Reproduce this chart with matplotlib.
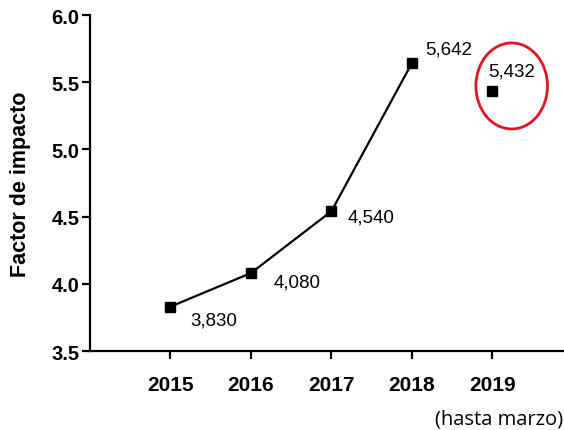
import matplotlib
matplotlib.use('Agg')
import matplotlib.pyplot as plt
from matplotlib.patches import Ellipse

plt.rcParams['font.family'] = ['Liberation Sans', 'DejaVu Sans']

anios = [2015, 2016, 2017, 2018]
factor = [3.830, 4.080, 4.540, 5.642]
anio_parcial = 2019
factor_parcial = 5.432
etiquetas = ['3,830', '4,080', '4,540', '5,642']
etiqueta_parcial = '5,432'
# desplazamiento de cada etiqueta (puntos)
desplaz = [(14, -9.5), (16, -6.5), (12, -4.5), (9.5, 10)]

fig = plt.figure(figsize=(5.64, 4.31), dpi=100)
ax = fig.add_axes([90/564, 79/431, 474/564, 336/431])

ax.plot(anios, factor, color='black', lw=1.6, marker='s', ms=7.8, zorder=3)
ax.plot([anio_parcial], [factor_parcial], color='black', marker='s', ms=7.8, ls='none', zorder=3)

for x, y, t, d in zip(anios, factor, etiquetas, desplaz):
    ax.annotate(t, (x, y), xytext=d, textcoords='offset points',
                fontsize=13.5, va='center', ha='left')
ax.annotate(etiqueta_parcial, (anio_parcial, factor_parcial), xytext=(-3, 14.5),
            textcoords='offset points', fontsize=13.5, va='center', ha='left')

# circulo rojo alrededor del dato parcial
ax.add_patch(Ellipse((2019.24, 5.472), 0.89, 0.64, fill=False,
                     edgecolor='#e8141c', lw=2, clip_on=False))

ax.set_xlim(2014, 2019.89)
ax.set_ylim(3.5, 6.0)
ax.set_xticks([2015, 2016, 2017, 2018, 2019])
ax.set_yticks([3.5, 4.0, 4.5, 5.0, 5.5, 6.0])
ax.set_yticklabels(['3.5', '4.0', '4.5', '5.0', '5.5', '6.0'])
for s in ['top', 'right']:
    ax.spines[s].set_visible(False)
for s in ['left', 'bottom']:
    ax.spines[s].set_linewidth(1.6)
ax.tick_params(axis='both', width=1.6, length=6, direction='out')
ax.tick_params(axis='x', pad=11, labelsize=15)
ax.tick_params(axis='y', pad=1.5, labelsize=14.5)
for lab in ax.get_xticklabels() + ax.get_yticklabels():
    lab.set_fontweight('bold')

ax.set_ylabel('Factor de impacto', fontsize=15.5, fontweight='bold', labelpad=15)

fig.text(0.999, 11/431, '(hasta marzo)', ha='right', va='center', fontsize=14.5,
         family=['Open Sans', 'DejaVu Sans'])

fig.savefig('out.png', dpi=100)
